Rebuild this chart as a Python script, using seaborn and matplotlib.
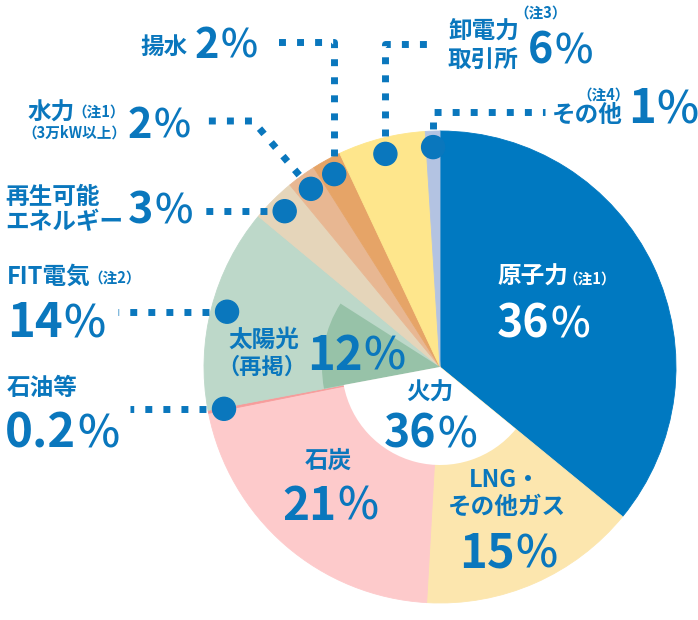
import numpy as np
import matplotlib
matplotlib.use('Agg')
import matplotlib.pyplot as plt
from matplotlib.patches import Wedge, Circle
import seaborn as sns

# 電源構成（%）、12時の位置から時計回り
labels = ['原子力', 'LNG・その他ガス', '石炭', '石油等', 'FIT電気',
          '再生可能エネルギー', '水力', '揚水', '卸電力取引所', 'その他']
shares = [36, 15, 21, 0.2, 14, 3, 2, 2, 6, 1]
colors = ['#0079c1', '#fce6ae', '#fdcacb', '#f79c9b', '#bdd8c9',
          '#e5d5ba', '#e8b792', '#e6a467', '#fee68c', '#b3c3e2']
solar_share = 12    # 太陽光（再掲）: FIT電気の内数
thermal_share = 36  # 火力 = LNG + 石炭 + 石油等
solar_color = '#97c2a8'

sns.set_theme(style='white')
plt.rcParams['font.family'] = ['Noto Sans CJK JP', 'DejaVu Sans']

BLUE = '#0a77bd'
W, H = 698, 620
fig = plt.figure(figsize=(6.98, 6.2), dpi=100)
ax = fig.add_axes([0, 0, 1, 1])

cx, cy, R = 440, H - 367, 236
wedges, _ = ax.pie(shares, colors=sns.color_palette(colors), startangle=90,
                   counterclock=False, center=(cx, cy), radius=R,
                   wedgeprops=dict(linewidth=0.6))
for w in wedges:
    w.set_edgecolor(w.get_facecolor())

total = sum(shares)
# 太陽光（FIT電気の中、石油等側から）
t_hi = wedges[4].theta2
t_lo = t_hi - solar_share / total * 360
ax.add_patch(Wedge((cx, cy), 118, t_lo, t_hi, color=solar_color, lw=0))
# 火力の白抜き
ax.add_patch(Wedge((cx, cy), 98, wedges[3].theta1, wedges[1].theta2, color='white', lw=0))

ax.set_xlim(0, W)
ax.set_ylim(0, H)
ax.set_aspect('equal')
ax.axis('off')


def T(x, y, s, size=17, color=BLUE, ha='left', va='center', weight='bold'):
    return ax.text(x, H - y, s, fontsize=size, color=color, ha=ha, va=va, fontweight=weight)


renderer = fig.canvas.get_renderer()


def pct(x, y, val, size=32, color=BLUE, ha='left'):
    t1 = ax.text(x, H - y, f'{val:g}', fontsize=size, color=color, fontweight='bold',
                 ha='left', va='baseline')
    t2 = ax.text(x, H - y, '%', fontsize=size * 0.95, color=color, fontweight='medium',
                 ha='left', va='baseline')
    w1 = t1.get_window_extent(renderer).width
    w2 = t2.get_window_extent(renderer).width
    x0 = x - (w1 + w2) / 2 if ha == 'center' else x
    t1.set_x(x0)
    t2.set_x(x0 + w1 + 1)


# 引き出し線と丸
def dot(i, r=220):
    a = np.deg2rad((wedges[i].theta1 + wedges[i].theta2) / 2)
    return cx + r * np.cos(a), cy + r * np.sin(a)


leaders = {
    9: lambda x, y: [(x, H - 112), (545, H - 112)],
    8: lambda x, y: [(x, H - 44), (435, H - 44)],
    7: lambda x, y: [(x, H - 42), (272, H - 42)],
    6: lambda x, y: [(253, H - 121), (205, H - 121)],
    5: lambda x, y: [(205, y)],
    4: lambda x, y: [(118, y)],
    3: lambda x, y: [(130, y)],
}
for i, path in leaders.items():
    x, y = dot(i)
    pts = [(x, y)] + path(x, y)
    ax.plot([p[0] for p in pts], [p[1] for p in pts], color=BLUE, lw=5.0,
            ls=(0, (1, 1.6)), dash_capstyle='butt', zorder=3)
    ax.add_patch(Circle((x, y), 11.5, color=BLUE, zorder=4))

# 外側ラベル
T(188, 47, '揚水', ha='right')
pct(195, 58, shares[7], size=30)

T(28, 113, '水力')
T(72, 112, '（注1）', size=10.5)
T(22, 133, '（3万kW以上）', size=10.5)
pct(128, 138, shares[6], size=30)

T(5, 197, '再生可能')
T(5, 222, 'エネルギー')
pct(128, 223, shares[5], size=31)

T(7, 277, 'FIT電気')
T(88, 278, '（注2）', size=10.5)
pct(7, 337, shares[4], size=34)

T(7, 388, '石油等')
pct(5, 447, shares[3], size=34)

T(448, 32, '卸電力')
T(448, 60, '取引所')
T(514, 13, '（注3）', size=10.5)
pct(528, 63, shares[8], size=31)

T(577, 95, '（注4）', size=10.5)
T(552, 115, 'その他')
pct(628, 123, shares[9], size=34)

# 内側ラベル
T(497, 277, '原子力', color='white')
T(563, 279, '（注1）', size=10.5, color='white')
pct(497, 337, shares[0], size=32, color='white')

T(228, 340, '太陽光')
T(262, 367, '（再掲）', ha='center', size=16)
pct(307, 370, solar_share, size=34)

T(430, 393, '火力', ha='center')
pct(430, 447, thermal_share, size=32, ha='center')

T(328, 461, '石炭', ha='center')
pct(330, 520, shares[2], size=33, ha='center')

T(505, 480, 'LNG・', ha='center')
T(507, 507, 'その他ガス', ha='center')
pct(508, 567, shares[1], size=34, ha='center')

fig.savefig('out.png', dpi=100)
